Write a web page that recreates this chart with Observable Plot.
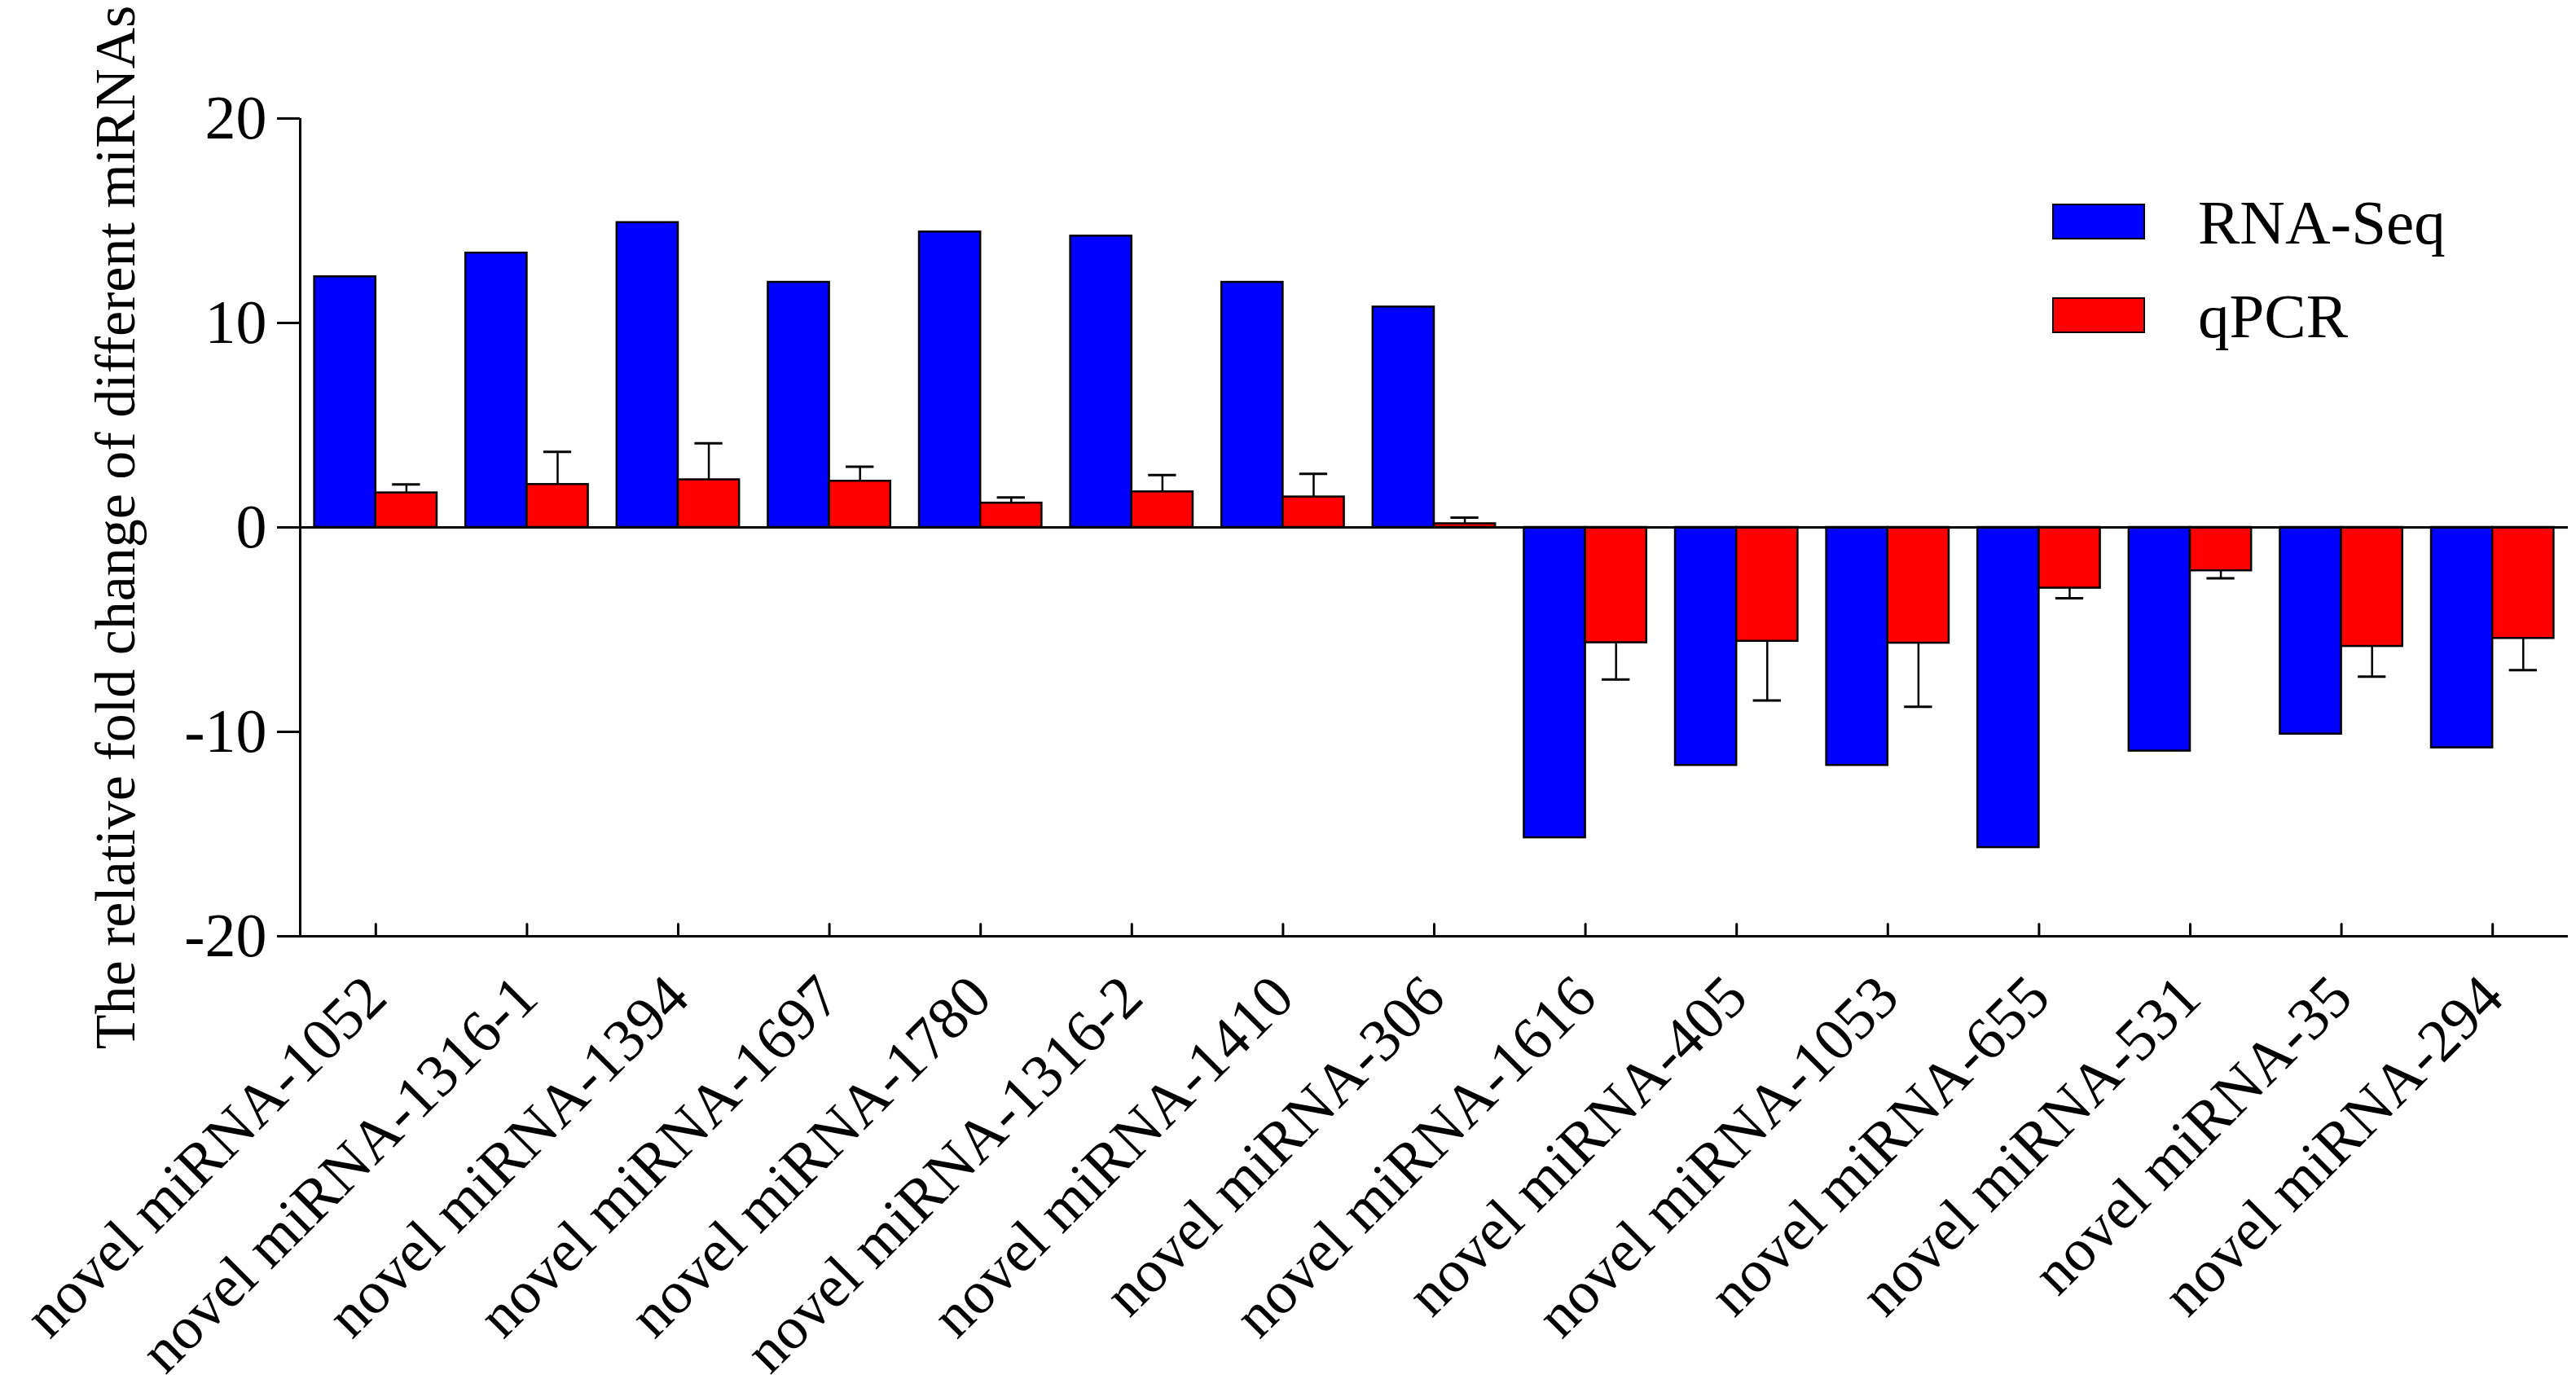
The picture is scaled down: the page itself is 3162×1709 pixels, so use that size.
<!DOCTYPE html>
<html>
<head>
<meta charset="utf-8">
<script src="https://cdn.jsdelivr.net/npm/d3@7"></script>
<script src="https://cdn.jsdelivr.net/npm/@observablehq/plot@0.6"></script>
<style>
  html, body { margin: 0; padding: 0; background: #ffffff; }
  #wrap { position: relative; width: 3162px; height: 1709px; font-family: "Liberation Serif", "Times New Roman", serif; }
  #legend { position: absolute; left: 2519px; top: 240px; }
  .item { position: absolute; left: 0; white-space: nowrap; font-size: 77px; line-height: 1; color: #000; }
  .sw { position: absolute; left: 0; width: 110px; height: 40px; border: 2.5px solid #000; }
  .lab { position: absolute; left: 179px; }
</style>
</head>
<body>
<div id="wrap"><div id="chart"></div><div id="legend"></div></div>
<script>
const categories = [
  "novel miRNA-1052", "novel miRNA-1316-1", "novel miRNA-1394", "novel miRNA-1697",
  "novel miRNA-1780", "novel miRNA-1316-2", "novel miRNA-1410", "novel miRNA-306",
  "novel miRNA-1616", "novel miRNA-405", "novel miRNA-1053", "novel miRNA-655",
  "novel miRNA-531", "novel miRNA-35", "novel miRNA-294"
];
const rnaSeq = [12.26, 13.42, 14.91, 11.99, 14.45, 14.25, 11.99, 10.78,
                -15.18, -11.64, -11.64, -15.66, -10.94, -10.11, -10.78];
const qpcr = [1.69, 2.10, 2.33, 2.26, 1.19, 1.74, 1.49, 0.18,
              -5.64, -5.57, -5.66, -2.97, -2.12, -5.82, -5.43];
const qpcrErr = [0.41, 1.60, 1.78, 0.71, 0.27, 0.82, 1.13, 0.30,
                 1.80, 2.90, 3.11, 0.50, 0.37, 1.48, 1.55];
const series = ["RNA-Seq", "qPCR"];
const seriesColors = ["#0000ff", "#ff0000"];
const yTicks = [-20, -10, 0, 10, 20];
const yLabel = "The relative fold change of different miRNAs";

const serif = "'Liberation Serif', 'Times New Roman', serif";
const barW = 0.405;   // fraction of a category step for each bar
const capW = 0.185;   // error-bar cap width in category steps
const yMin = -20, yMax = 20;
const idx = categories.map((_, i) => i);
const rows = categories.map((c, i) => ({
  i, c, rna: rnaSeq[i], q: qpcr[i], err: qpcrErr[i],
  end: qpcr[i] + Math.sign(qpcr[i]) * qpcrErr[i]
}));

const tickShapeUp = { draw(ctx, l) { ctx.moveTo(0, 0); ctx.lineTo(0, -l); } };

const chart = Plot.plot({
  width: 3162,
  height: 1709,
  marginLeft: 368,
  marginRight: 10,
  marginTop: 145,
  marginBottom: 560,
  style: { fontFamily: serif, fontSize: "76px", color: "#000", background: "transparent" },
  x: { domain: [-0.5, categories.length - 0.5] },
  y: { domain: [yMin, yMax] },
  marks: [
    Plot.rectY(rows, { x1: d => d.i - barW, x2: d => d.i, y1: 0, y2: d => d.rna,
      fill: seriesColors[0], stroke: "#000", strokeWidth: 2.5 }),
    Plot.rectY(rows, { x1: d => d.i, x2: d => d.i + barW, y1: 0, y2: d => d.q,
      fill: seriesColors[1], stroke: "#000", strokeWidth: 2.5 }),
    Plot.ruleX(rows, { x: d => d.i + barW / 2, y1: d => d.q, y2: d => d.end, stroke: "#000", strokeWidth: 2.5 }),
    Plot.ruleY(rows, { y: d => d.end, x1: d => d.i + barW / 2 - capW / 2, x2: d => d.i + barW / 2 + capW / 2,
      stroke: "#000", strokeWidth: 3 }),
    Plot.ruleY([0], { stroke: "#000", strokeWidth: 3 }),
    Plot.ruleY([yMin], { stroke: "#000", strokeWidth: 3 }),
    Plot.ruleX([-0.5], { stroke: "#000", strokeWidth: 3 }),
    Plot.vector(idx, { x: d => d, y: yMin, length: 15, anchor: "start", shape: tickShapeUp, stroke: "#000", strokeWidth: 3 }),
    Plot.axisY({ ticks: yTicks, tickSize: 28, tickPadding: 13, tickFormat: d => String(d),
      strokeWidth: 3, fontSize: 76, fontFamily: serif, label: null }),
    Plot.axisX({ ticks: idx, tickSize: 0, tickPadding: 62, tickFormat: i => categories[i],
      rotate: -45, textAnchor: "end", lineAnchor: "middle", fontSize: 74, fontFamily: serif, label: null }),
    Plot.text([yLabel], { text: d => d, frameAnchor: "left", rotate: -90, dx: -226,
      textAnchor: "middle", lineAnchor: "middle", fontSize: 70, fontFamily: serif, fill: "#000" })
  ]
});
document.getElementById("chart").appendChild(chart);

const legend = document.getElementById("legend");
series.forEach((s, k) => {
  const item = document.createElement("div");
  item.className = "item";
  item.style.top = (k * 115) + "px";
  const sw = document.createElement("div");
  sw.className = "sw";
  sw.style.background = seriesColors[k];
  sw.style.top = "10px";
  const lab = document.createElement("div");
  lab.className = "lab";
  lab.style.top = "-5px";
  lab.textContent = s;
  item.appendChild(sw);
  item.appendChild(lab);
  legend.appendChild(item);
});
</script>
</body>
</html>
